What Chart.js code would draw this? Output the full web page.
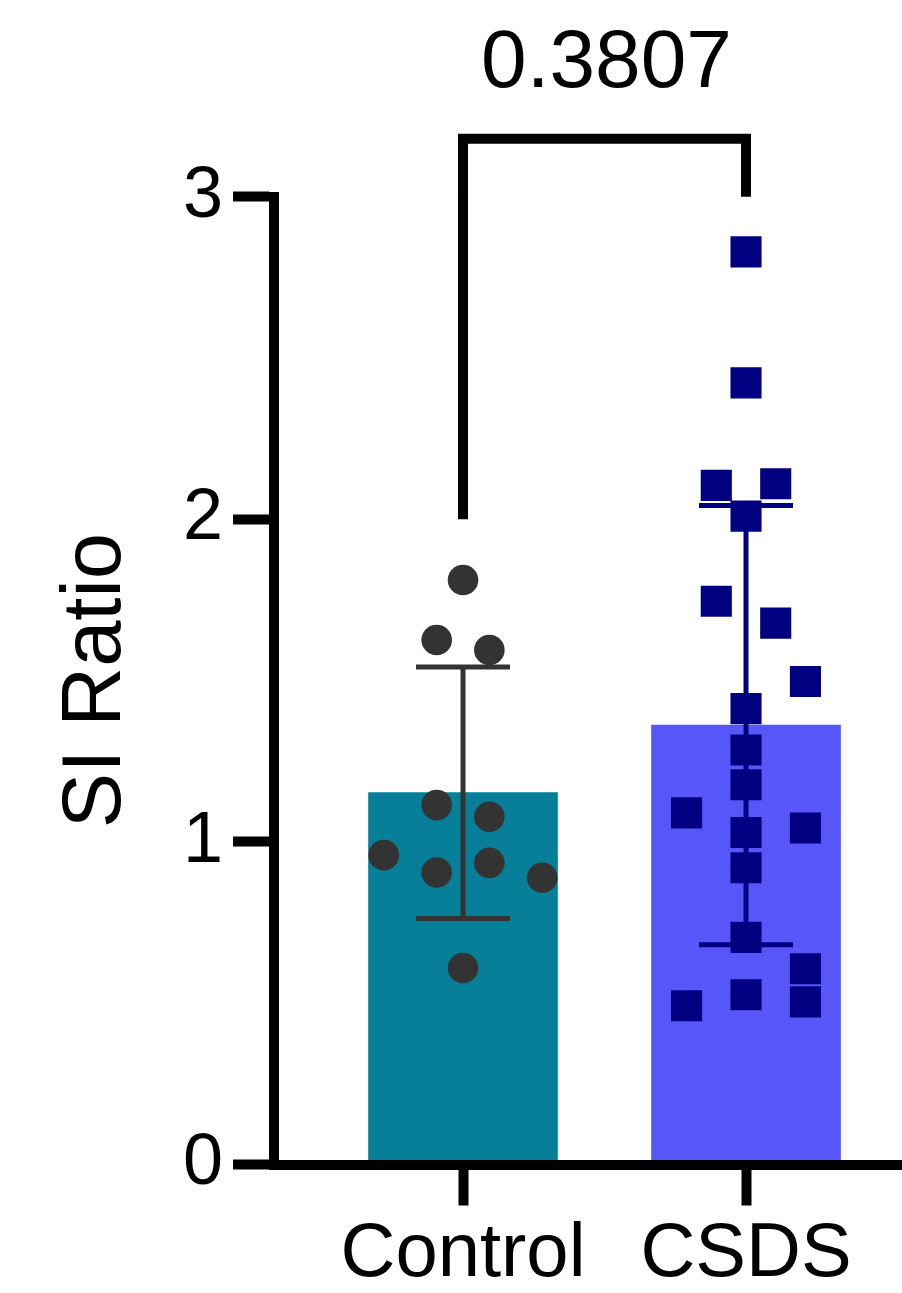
<!DOCTYPE html>
<html><head><meta charset="utf-8">
<script src="https://cdn.jsdelivr.net/npm/chart.js@4/dist/chart.umd.min.js"></script>
<style>html,body{margin:0;padding:0;background:#fff}canvas{display:block}</style>
</head><body>
<canvas id="c" width="902" height="1293"></canvas>
<script>
// ---- data ----
const categories = ['Control', 'CSDS'];
const barMeans = [1.1525, 1.362];
const barSD = [0.390, 0.681];
const controlValues = [1.812, 1.626, 1.595, 1.114, 1.078, 0.959, 0.905, 0.935, 0.889, 0.609];
const controlJitter = [0, -0.093, 0.093, -0.093, 0.093, -0.28, -0.093, 0.093, 0.28, 0];
const csdsValues = [2.829, 2.423, 2.105, 2.110, 2.010, 1.746, 1.678, 1.497, 1.413, 1.285,
                    1.177, 1.090, 1.043, 1.029, 0.920, 0.704, 0.607, 0.526, 0.492, 0.504];
const csdsJitter = [0, 0, -0.105, 0.105, 0, -0.105, 0.105, 0.21, 0, 0,
                    0, -0.21, 0.21, 0, 0, 0, 0.21, 0, -0.21, 0.21];
const yTickValues = [0, 1, 2, 3];
const pValueLabel = '0.3807';
const bracketLeftY = 2.0, bracketTopY = 3.18, bracketRightY = 3.0, bracketLabelY = 3.41;

// ---- styles ----
const FONT = '"Liberation Sans", Arial, Helvetica, sans-serif';
const barColors = ['rgb(7,127,153)', 'rgb(87,87,249)'];
const pointColors = ['#333333', '#000080'];

const errorBarPlugin = {
  id: 'errorBars',
  afterDatasetDraw(chart, args) {
    if (args.index !== 0) return;
    const {ctx, scales: {x, y}} = chart;
    ctx.save();
    ctx.lineCap = 'butt';
    barMeans.forEach((m, i) => {
      const cx = x.getPixelForValue(i + 1);
      const top = y.getPixelForValue(m + barSD[i]);
      const bot = y.getPixelForValue(m - barSD[i]);
      ctx.strokeStyle = pointColors[i];
      ctx.lineWidth = 5;
      ctx.beginPath();
      ctx.moveTo(cx, top); ctx.lineTo(cx, bot);
      ctx.moveTo(cx - 47, top); ctx.lineTo(cx + 47, top);
      ctx.moveTo(cx - 47, bot); ctx.lineTo(cx + 47, bot);
      ctx.stroke();
    });
    ctx.restore();
  }
};

const bracketPlugin = {
  id: 'bracket',
  afterDraw(chart) {
    const {ctx, scales: {x, y}} = chart;
    const x1 = x.getPixelForValue(1), x2 = x.getPixelForValue(2);
    ctx.save();
    ctx.strokeStyle = '#000';
    ctx.lineWidth = 10;
    ctx.lineJoin = 'miter';
    ctx.lineCap = 'butt';
    ctx.beginPath();
    ctx.moveTo(x1, y.getPixelForValue(bracketLeftY));
    ctx.lineTo(x1, y.getPixelForValue(bracketTopY));
    ctx.lineTo(x2, y.getPixelForValue(bracketTopY));
    ctx.lineTo(x2, y.getPixelForValue(bracketRightY));
    ctx.stroke();
    ctx.fillStyle = '#000';
    ctx.font = '82px ' + FONT;
    ctx.textAlign = 'center';
    ctx.textBaseline = 'middle';
    ctx.fillText(pValueLabel, (x1 + x2) / 2 + 2, y.getPixelForValue(bracketLabelY));
    ctx.restore();
  }
};

new Chart(document.getElementById('c'), {
  type: 'bar',
  data: {
    datasets: [
      {
        type: 'bar',
        order: 3,
        data: barMeans.map((m, i) => ({x: i + 1, y: m})),
        backgroundColor: barColors,
        borderWidth: 0,
        barThickness: 189
      },
      {
        type: 'scatter',
        order: 1,
        data: controlValues.map((v, i) => ({x: 1 + controlJitter[i], y: v})),
        pointStyle: 'circle',
        pointRadius: 15.3,
        backgroundColor: pointColors[0],
        borderWidth: 0
      },
      {
        type: 'scatter',
        order: 1,
        data: csdsValues.map((v, i) => ({x: 2 + csdsJitter[i], y: v})),
        pointStyle: 'rect',
        pointRadius: 22,
        backgroundColor: pointColors[1],
        borderWidth: 0
      }
    ]
  },
  options: {
    responsive: false,
    devicePixelRatio: 1,
    animation: false,
    events: [],
    layout: {autoPadding: false, padding: {top: 196.7, left: 0, right: 0, bottom: -11.7}},
    plugins: {legend: {display: false}, tooltip: {enabled: false}},
    scales: {
      x: {
        type: 'linear',
        min: 0.3322,
        max: 2.5512,
        offset: false,
        afterBuildTicks: (s) => { s.ticks = categories.map((c, i) => ({value: i + 1})); },
        ticks: {
          callback: (v, i) => categories[i],
          color: '#000',
          font: {family: FONT, size: 76, lineHeight: 1.2},
          padding: 4,
          maxRotation: 0,
          autoSkip: false
        },
        grid: {
          offset: false,
          drawOnChartArea: false,
          drawTicks: true,
          tickLength: 41,
          tickWidth: 10,
          tickColor: '#000',
          color: '#000'
        },
        border: {display: true, color: '#000', width: 10, z: 1}
      },
      y: {
        type: 'linear',
        min: 0,
        max: 3,
        afterBuildTicks: (s) => { s.ticks = yTickValues.map(v => ({value: v})); },
        ticks: {
          color: '#000',
          font: {family: FONT, size: 72, lineHeight: 1.2},
          padding: 10
        },
        grid: {
          drawOnChartArea: false,
          drawTicks: true,
          tickLength: 41,
          tickWidth: 10,
          tickColor: '#000',
          color: '#000'
        },
        border: {display: true, color: '#000', width: 10, z: 1},
        title: {
          display: true,
          text: 'SI Ratio',
          color: '#000',
          font: {family: FONT, size: 83, lineHeight: 1.2},
          padding: {top: 47.2, bottom: 26.2}
        }
      }
    }
  },
  plugins: [errorBarPlugin, bracketPlugin]
});
</script>
</body></html>
